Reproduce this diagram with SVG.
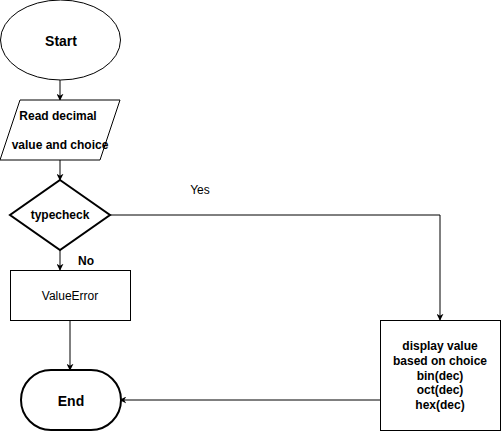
<svg xmlns="http://www.w3.org/2000/svg" width="501" height="432" viewBox="0 0 501 432">
<style>
text{font-family:"Liberation Sans",Arial,sans-serif;font-size:12px;fill:#000;text-anchor:middle}
.b{font-weight:bold}
.big{font-size:14px;font-weight:bold}
.s{fill:#fff;stroke:#000;stroke-width:1}
.t{fill:#fff;stroke:#000;stroke-width:2}
.c{fill:none;stroke:#000;stroke-width:1}
</style>
<defs>
<marker id="a" viewBox="0 0 10 10" refX="9" refY="5" markerWidth="7" markerHeight="7" markerUnits="userSpaceOnUse" orient="auto">
<path d="M0,0 L10,5 L0,10 L3,5 Z" fill="#000"/>
</marker>
</defs>
<rect width="501" height="432" fill="#fff"/>
<g id="connectors">
<line class="c" x1="60" y1="80" x2="60" y2="100" marker-end="url(#a)"/>
<line class="c" x1="60" y1="160" x2="60" y2="180" marker-end="url(#a)"/>
<polyline class="c" points="110,215 440,215 440,320" marker-end="url(#a)"/>
<line class="c" x1="60" y1="250" x2="60" y2="270" marker-end="url(#a)"/>
<line class="c" x1="70" y1="320" x2="70" y2="370" marker-end="url(#a)"/>
<line class="c" x1="380" y1="400" x2="120" y2="400" marker-end="url(#a)"/>
<text x="200" y="194">Yes</text>
<text class="b" x="86" y="265">No</text>
</g>
<g id="start">
<ellipse class="s" cx="60.5" cy="40" rx="60" ry="40"/>
<text class="big" x="61" y="46">Start</text>
</g>
<g id="read">
<polygon class="s" points="20,100 120,100 100,160 0,160"/>
<text class="b" x="58" y="120">Read decimal</text>
<text class="b" x="60" y="149">value and choice</text>
</g>
<g id="typecheck">
<polygon class="t" points="60,180 110,215 60,250 10,215"/>
<text class="b" x="60" y="219">typecheck</text>
</g>
<g id="valueerror">
<rect class="s" x="10.5" y="270.5" width="120" height="50"/>
<text x="70" y="300">ValueError</text>
</g>
<g id="display">
<rect class="s" x="380.5" y="320.5" width="120" height="110"/>
<text class="b" x="440" y="350">display value</text>
<text class="b" x="440" y="365">based on choice</text>
<text class="b" x="440" y="380">bin(dec)</text>
<text class="b" x="440" y="394">oct(dec)</text>
<text class="b" x="440" y="409">hex(dec)</text>
</g>
<g id="end">
<rect class="t" x="21" y="370" width="100" height="60" rx="30" ry="30"/>
<text class="big" x="71" y="406">End</text>
</g>
</svg>
